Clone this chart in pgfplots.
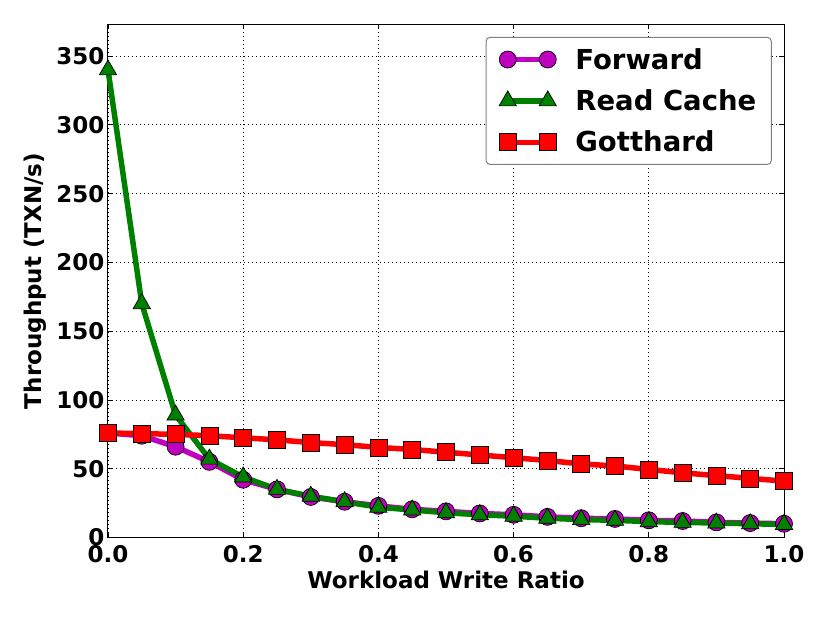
\documentclass[border=0pt]{standalone}
\usepackage{fontspec}
\setmainfont{DejaVu Sans}
\usepackage{pgfplots}
\pgfplotsset{compat=1.18}
\definecolor{mplm}{rgb}{0.75,0,0.75}
\definecolor{mplg}{rgb}{0,0.5,0}
\definecolor{mplr}{rgb}{1,0,0}
\begin{document}
\begin{tikzpicture}
\begin{axis}[name=ax,
  width=676pt, height=513pt, scale only axis,
  xmin=0, xmax=1, ymin=0, ymax=373,
  xtick={0,0.2,0.4,0.6,0.8,1.0},
  ytick={0,50,100,150,200,250,300,350},
  /pgf/number format/assume math mode=true,
  xticklabel style={/pgf/number format/.cd, fixed, fixed zerofill, precision=1, /tikz/.cd, yshift=-4pt},
  ticklabel style={font=\fontsize{23}{27}\selectfont\bfseries},
  label style={font=\fontsize{23}{27}\selectfont\bfseries},
  xlabel={Workload Write Ratio},
  ylabel={Throughput (TXN/s)},
  xlabel style={yshift=-2pt},
  ylabel style={yshift=3pt},
  grid=major,
  major grid style={black, dash pattern=on 1pt off 3pt, line width=0.8pt},
  tick align=inside, major tick length=5pt,
  tick style={black, line width=0.8pt},
  axis line style={black, line width=1pt},
  clip=false,
  legend style={at={(0.982,0.976)}, anchor=north east, draw=gray, line width=1pt, rounded corners=4pt,
    font=\fontsize{27.5}{32}\selectfont\bfseries, row sep=15pt, inner xsep=13pt, inner ysep=9pt,
    /tikz/every odd column/.append style={column sep=17pt}},
  legend cell align=left,
  legend image code/.code={\draw[mark repeat=1,#1] plot coordinates {(0pt,0pt) (40pt,0pt)};},
  every axis plot/.append style={line width=5.5pt},
]
\addplot[mplm, mark=*, mark size=8.5pt, mark options={draw=black, line width=0.7pt, fill=mplm}] coordinates {
(0,76) (0.05,74) (0.1,66) (0.15,55) (0.2,42) (0.25,35) (0.3,29.5) (0.35,26) (0.4,23) (0.45,20.5) (0.5,19) (0.55,17.5) (0.6,16.5) (0.65,15) (0.7,14) (0.75,13.5) (0.8,12.5) (0.85,12) (0.9,11) (0.95,10.5) (1.0,10)};
\addlegendentry{Forward}
\addplot[mplg, mark=triangle*, mark size=10pt, mark options={draw=black, line width=0.7pt, fill=mplg}] coordinates {
(0,340) (0.05,170) (0.1,89) (0.15,57) (0.2,44) (0.25,35) (0.3,30) (0.35,26) (0.4,22) (0.45,20) (0.5,18) (0.55,16.5) (0.6,15.5) (0.65,14) (0.7,13) (0.75,12.5) (0.8,11.5) (0.85,11) (0.9,10.5) (0.95,10) (1.0,9.5)};
\addlegendentry{Read Cache}
\addplot[mplr, mark=square*, mark size=8.5pt, mark options={draw=black, line width=0.7pt, fill=mplr}] coordinates {
(0,76) (0.05,75.5) (0.1,75) (0.15,74) (0.2,72.5) (0.25,71) (0.3,69) (0.35,67.5) (0.4,65.5) (0.45,64) (0.5,62) (0.55,60) (0.6,58) (0.65,56) (0.7,53.5) (0.75,52) (0.8,49.5) (0.85,47) (0.9,45) (0.95,43) (1.0,41)};
\addlegendentry{Gotthard}
\end{axis}
\path ([shift={(-108pt,-85pt)}]ax.south west) rectangle ([shift={(46pt,24.5pt)}]ax.north east);
\end{tikzpicture}
\end{document}
